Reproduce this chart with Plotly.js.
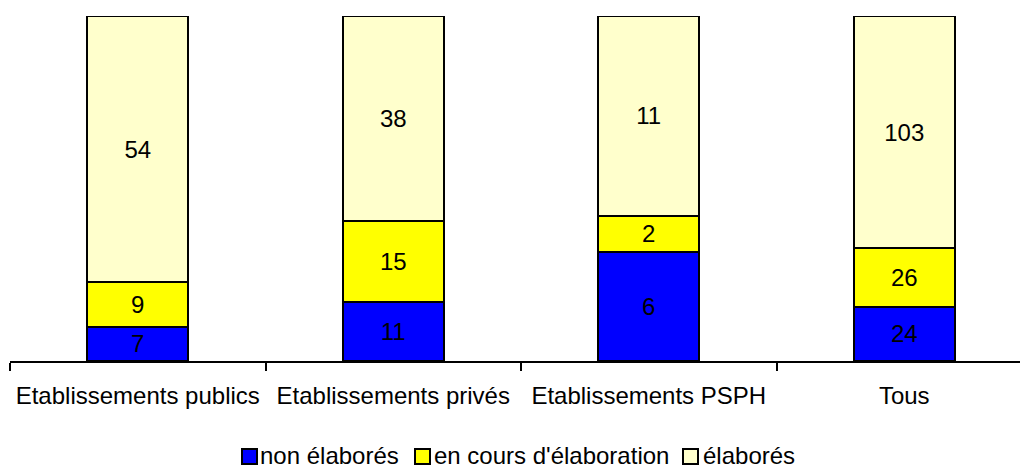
<!DOCTYPE html>
<html>
<head>
<meta charset="utf-8">
<script src="https://cdn.plot.ly/plotly-3.0.1.min.js"></script>
<style>html,body{margin:0;padding:0;background:#fff;}#chart{width:1020px;height:466px;}</style>
</head>
<body>
<div id="chart"></div>
<script>
var categories = ["Etablissements publics", "Etablissements privés", "Etablissements PSPH", "Tous"];
var seriesNames = ["non élaborés", "en cours d'élaboration", "élaborés"];
var nonElabores = [7, 11, 6, 24];
var enCours = [9, 15, 2, 26];
var elabores = [54, 38, 11, 103];
var colors = ["#0000FF", "#FFFF00", "#FFFFCC"];

var seriesValues = [nonElabores, enCours, elabores];
var traces = seriesValues.map(function(vals, i) {
  return {
    type: "bar",
    name: seriesNames[i],
    x: categories,
    y: vals,
    text: vals.map(String),
    textposition: "inside",
    insidetextanchor: "middle",
    constraintext: "none",
    textangle: 0,
    textfont: {family: "Liberation Sans, Arial, sans-serif", size: 24, color: "#000"},
    marker: {color: colors[i], line: {color: "#000", width: 2}},
    hoverinfo: "skip",
    showlegend: false
  };
});

// plot area geometry (pixels) used to place the hand-drawn legend
var W = 1020, H = 466, ML = 10, MR = 0, MT = 16, MB = 105;
var pw = W - ML - MR, ph = H - MT - MB;
function px(x) { return (x - ML) / pw; }
function py(y) { return (H - MB - y) / ph; }

var legendSquares = [242, 415, 683];
var legendTextX = [259, 433, 702];
var shapes = [], annotations = [];
seriesNames.forEach(function(name, i) {
  shapes.push({
    type: "rect", xref: "paper", yref: "paper",
    x0: px(legendSquares[i]), x1: px(legendSquares[i] + 15),
    y0: py(464), y1: py(449),
    fillcolor: colors[i], line: {color: "#000", width: 2}
  });
  annotations.push({
    xref: "paper", yref: "paper",
    x: px(legendTextX[i]), y: py(456),
    xanchor: "left", yanchor: "middle",
    borderpad: 0,
    text: name, showarrow: false,
    font: {family: "Liberation Sans, Arial, sans-serif", size: 24, color: "#000"}
  });
});

var layout = {
  width: W,
  height: H,
  barmode: "stack",
  barnorm: "percent",
  bargap: 0.605,
  paper_bgcolor: "#fff",
  plot_bgcolor: "#fff",
  margin: {l: ML, r: MR, t: MT, b: MB},
  font: {family: "Liberation Sans, Arial, sans-serif", size: 24, color: "#000"},
  xaxis: {
    type: "category",
    range: [-0.5, 3.453],
    showline: true,
    linecolor: "#000",
    linewidth: 2,
    ticks: "outside",
    tickson: "boundaries",
    ticklen: 8,
    tickwidth: 2,
    tickcolor: "#000",
    ticklabelstandoff: 12,
    showgrid: false,
    zeroline: false,
    tickfont: {size: 24, color: "#000"}
  },
  yaxis: {
    range: [0, 100],
    visible: false,
    showgrid: false,
    zeroline: false
  },
  showlegend: false,
  shapes: shapes,
  annotations: annotations
};

Plotly.newPlot("chart", traces, layout, {displayModeBar: false, staticPlot: true});
</script>
</body>
</html>
